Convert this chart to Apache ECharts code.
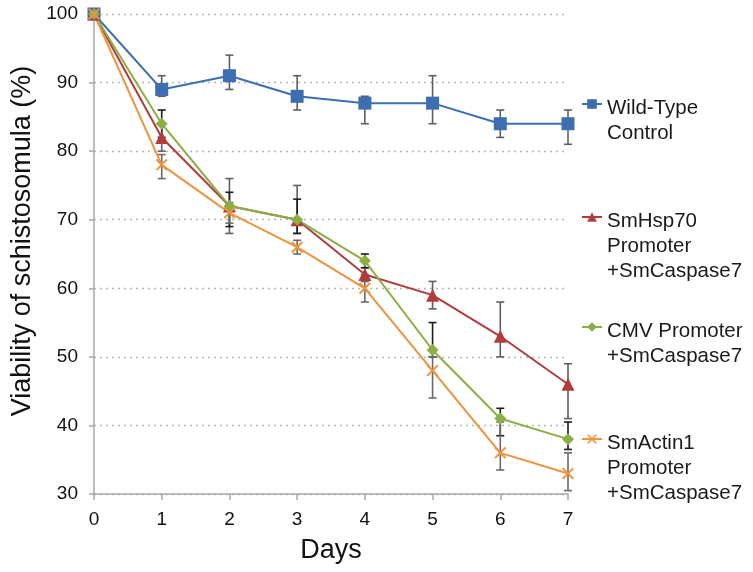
<!DOCTYPE html>
<html><head><meta charset="utf-8">
<script src="https://cdn.jsdelivr.net/npm/echarts@6/dist/echarts.min.js"></script>
<style>html,body{margin:0;padding:0;background:#fff}#c{width:753px;height:572px}</style>
</head><body><div id="c"></div>
<script>
const days = [0, 1, 2, 3, 4, 5, 6, 7];
const seriesNames = ['Wild-Type Control', 'SmHsp70 Promoter +SmCaspase7', 'CMV Promoter +SmCaspase7', 'SmActin1 Promoter +SmCaspase7'];
const wildType   = [100, 89, 91, 88, 87, 87, 84, 84];
const wildTypeHi = [100, 91, 94, 91, 88, 91, 86, 86];
const wildTypeLo = [100, 88, 89, 86, 84, 84, 82, 81];
const hsp70   = [100, 82, 72, 70, 62, 59, 53, 46];
const hsp70Hi = [100, 84, 76, 75, 63, 61, 58, 49];
const hsp70Lo = [100, 80, 68, 68, 61, 57, 50, 41];
const cmv   = [100, 84, 72, 70, 64, 51, 41, 38];
const cmvHi = [100, 86, 74, 73, 65, 55, 42.5, 40.5];
const cmvLo = [100, 82, 69, 68, 63, 50, 38.5, 36.5];
const actin   = [100, 78, 71, 66, 60, 48, 36, 33];
const actinHi = [100, 79.5, 72.5, 67, 62, 50, 40.5, 36];
const actinLo = [100, 76, 69.5, 65, 58, 44, 33.5, 30.5];
const yTicks = [30, 40, 50, 60, 70, 80, 90, 100];
const yTitle = 'Viability of schistosomula (%)';
const xTitle = 'Days';

const colors = ['#3D6EB0', '#B23C3C', '#8BAF45', '#EC9440'];
const errColors = ['#5f5f5f', '#5f5f5f', '#1c1c1c', '#6a6a6a'];
const legendLines = [['Wild-Type', 'Control'], ['SmHsp70', 'Promoter', '+SmCaspase7'], ['CMV Promoter', '+SmCaspase7'], ['SmActin1', 'Promoter', '+SmCaspase7']];
const legendIconY = [104, 217, 327, 439];
const symbols = ['rect', 'triangle', 'diamond', 'path://M0,1.2 L1.2,0 L5,3.8 L8.8,0 L10,1.2 L6.2,5 L10,8.8 L8.8,10 L5,6.2 L1.2,10 L0,8.8 L3.8,5 Z'];
const symbolSizes = [13, 13, 12, 12];

const vals = [wildType, hsp70, cmv, actin];
const his = [wildTypeHi, hsp70Hi, cmvHi, actinHi];
const los = [wildTypeLo, hsp70Lo, cmvLo, actinLo];

const FONT = 'Liberation Sans, Arial, sans-serif';
const LH = 25;
const SHIFT = 8; // extra gap so text sits ~4px below the icon

const series = [];
vals.forEach((v, i) => {
  series.push({
    type: 'custom',
    name: seriesNames[i] + ' err',
    z: 1,
    data: days.slice(1).map(d => [d, his[i][d], los[i][d]]),
    renderItem: function (params, api) {
      const p1 = api.coord([api.value(0), api.value(1)]);
      const p2 = api.coord([api.value(0), api.value(2)]);
      const w = 4;
      const st = { stroke: errColors[i], lineWidth: 1.6 };
      return { type: 'group', children: [
        { type: 'line', shape: { x1: p1[0], y1: p1[1], x2: p2[0], y2: p2[1] }, style: st },
        { type: 'line', shape: { x1: p1[0] - w, y1: p1[1], x2: p1[0] + w, y2: p1[1] }, style: st },
        { type: 'line', shape: { x1: p2[0] - w, y1: p2[1], x2: p2[0] + w, y2: p2[1] }, style: st }
      ] };
    }
  });
});
vals.forEach((v, i) => {
  series.push({
    type: 'line',
    name: seriesNames[i],
    z: 3,
    data: days.map((d, k) => [d, v[k]]),
    symbol: symbols[i],
    symbolSize: symbolSizes[i],
    showAllSymbol: true,
    color: colors[i],
    lineStyle: { width: 2, color: colors[i] },
    itemStyle: { color: colors[i] },
    emphasis: { disabled: true }
  });
});

const legends = seriesNames.map((n, i) => {
  const nl = legendLines[i].length;
  const pre = ['{g| }'].concat(new Array(nl - 1).fill(' '));
  return {
    data: [n],
    orient: 'vertical',
    left: 581,
    top: legendIconY[i] - SHIFT / 2 - (2 * nl - 1) * LH / 2,
    padding: 0,
    itemWidth: 20,
    itemHeight: 12,
    itemGap: 0,
    selectedMode: false,
    formatter: () => pre.concat(legendLines[i]).join('\n'),
    textStyle: { fontFamily: FONT, fontSize: 20.5, color: '#1a1a1a', lineHeight: LH,
      rich: { g: { fontSize: 1, lineHeight: SHIFT, height: SHIFT } } }
  };
});

const chart = echarts.init(document.getElementById('c'), null, { renderer: 'canvas' });
chart.setOption({
  animation: false,
  backgroundColor: '#fff',
  grid: { left: 94, right: 185, top: 14, bottom: 78, containLabel: false },
  legend: legends,
  graphic: [{
    type: 'text', x: 22.5, y: 241, rotation: Math.PI / 2, silent: true,
    style: { text: yTitle, font: '27px Liberation Sans, Arial, sans-serif', fill: '#111', align: 'center', verticalAlign: 'middle' }
  }],
  xAxis: {
    type: 'value', min: 0, max: 7, interval: 1,
    name: xTitle, nameLocation: 'middle', nameGap: 43,
    nameTextStyle: { fontFamily: FONT, fontSize: 27, color: '#111' },
    axisLine: { show: true, lineStyle: { color: '#a8a8a8', width: 1.5 } },
    axisTick: { show: true, length: 6, lineStyle: { color: '#a8a8a8', width: 1.5 } },
    axisLabel: { fontFamily: FONT, fontSize: 19, color: '#111', margin: 16 },
    splitLine: { show: false }
  },
  yAxis: {
    type: 'value', min: 30, max: 100, interval: 10,
    axisLine: { show: true, lineStyle: { color: '#a8a8a8', width: 1.5 } },
    axisTick: { show: true, length: 5, lineStyle: { color: '#a8a8a8', width: 1.5 } },
    axisLabel: { fontFamily: FONT, fontSize: 19, color: '#111', margin: 16,
      formatter: v => yTicks.includes(v) ? String(v) : '' },
    splitLine: { show: true, lineStyle: { color: '#b5b5b5', type: [2, 4], width: 1.3 } }
  },
  series: series
});
</script></body></html>
